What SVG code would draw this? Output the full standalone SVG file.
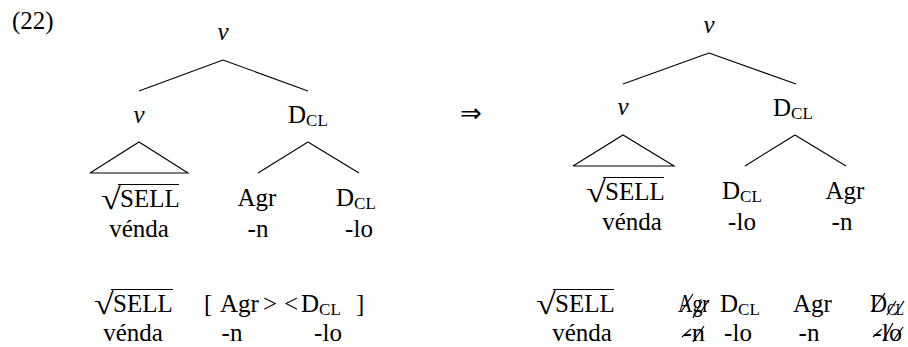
<svg xmlns="http://www.w3.org/2000/svg" width="908" height="347" viewBox="0 0 908 347">
<style>
text{font-family:"Liberation Serif","Times New Roman",serif;font-size:25px;fill:#000}
.m{text-anchor:middle}
.it{font-style:italic}
.sub{font-size:17px}
.sq{font-family:"Liberation Serif",serif;font-size:24px}
.e line,.e polyline{stroke:#000;stroke-width:1.1;fill:none}
.k{stroke:#000;stroke-width:1.2}
.rad{stroke:#000;stroke-width:1.1;fill:none}
</style>
<text x="12" y="29">(22)</text>

<g id="edges" class="e">
<line x1="223" y1="60" x2="139" y2="91"/>
<line x1="223" y1="60" x2="308" y2="91"/>
<polyline points="90,173 139,142 188,173 90,173"/>
<line x1="308" y1="142" x2="258" y2="173"/>
<line x1="308" y1="142" x2="359" y2="173"/>
<line x1="709" y1="53" x2="623" y2="84"/>
<line x1="709" y1="53" x2="796" y2="84"/>
<polyline points="573,166 623,135 674,166 573,166"/>
<line x1="795" y1="135" x2="745" y2="166"/>
<line x1="795" y1="135" x2="846" y2="166"/>
</g>

<g id="L-root"><text class="m it" x="223" y="40">v</text></g>
<g id="L-v"><text class="m it" x="139" y="123">v</text></g>
<g id="L-D"><text x="288" y="123">D<tspan class="sub" dy="3">CL</tspan></text></g>
<g id="L-sell"><text class="sq" transform="translate(101,209) scale(1.5,1.25)">√</text><line class="rad" x1="118" y1="184.5" x2="179" y2="184.5"/><text x="120" y="207">SELL</text><text class="m" x="139" y="237">vénda</text></g>
<g id="L-agr"><text class="m" x="257" y="206">Agr</text><text class="m" x="258" y="237">-n</text></g>
<g id="L-dcl"><text x="336" y="206">D<tspan class="sub" dy="3">CL</tspan></text><text class="m" x="359" y="237">-lo</text></g>

<g id="arrow"><text x="460" y="122" style="font-family:'DejaVu Sans',sans-serif;font-size:26px">⇒</text></g>

<g id="R-root"><text class="m it" x="709" y="33">v</text></g>
<g id="R-v"><text class="m it" x="623" y="115">v</text></g>
<g id="R-D"><text x="773" y="116">D<tspan class="sub" dy="3">CL</tspan></text></g>
<g id="R-sell"><text class="sq" transform="translate(586,202) scale(1.5,1.25)">√</text><line class="rad" x1="603" y1="177.5" x2="664" y2="177.5"/><text x="605" y="200">SELL</text><text class="m" x="632" y="230">vénda</text></g>
<g id="R-dcl"><text x="722" y="199">D<tspan class="sub" dy="3">CL</tspan></text><text class="m" x="742" y="230">-lo</text></g>
<g id="R-agr"><text class="m" x="845" y="199">Agr</text><text class="m" x="842" y="230">-n</text></g>

<g id="B-left">
<text class="sq" transform="translate(94,314) scale(1.5,1.25)">√</text><line class="rad" x1="111" y1="289.5" x2="173" y2="289.5"/><text x="113" y="312">SELL</text>
<text class="m" x="133" y="341">vénda</text>
<text x="204" y="312">[</text><text x="220" y="312">Agr</text><text x="263" y="312">&gt;</text><text x="284" y="312">&lt;</text>
<text x="301" y="312">D<tspan class="sub" dy="3">CL</tspan></text><text x="356" y="312">]</text>
<text class="m" x="232" y="341">-n</text><text class="m" x="328" y="341">-lo</text>
</g>

<g id="B-right">
<text class="sq" transform="translate(536,314) scale(1.5,1.25)">√</text><line class="rad" x1="553" y1="289.5" x2="614" y2="289.5"/><text x="555" y="312">SELL</text>
<text class="m" x="582" y="341">vénda</text>
<text x="678" y="312" textLength="31" lengthAdjust="spacingAndGlyphs">Agr</text>
<line class="k" x1="681" y1="312" x2="693" y2="294"/><line class="k" x1="693" y1="318" x2="702" y2="301"/><line class="k" x1="700" y1="313" x2="709" y2="300"/>
<text x="683" y="341" textLength="22" lengthAdjust="spacingAndGlyphs">-n</text>
<line class="k" x1="682" y1="337" x2="691" y2="329"/><line class="k" x1="693" y1="342" x2="704" y2="326"/>
<text x="720" y="312">D<tspan class="sub" dy="3">CL</tspan></text>
<text class="m" x="738" y="341">-lo</text>
<text x="793" y="312">Agr</text>
<text class="m" x="809" y="341">-n</text>
<text x="870" y="312" textLength="17" lengthAdjust="spacingAndGlyphs">D</text><text x="887" y="315" class="sub" textLength="17" lengthAdjust="spacingAndGlyphs">CL</text>
<line class="k" x1="872" y1="311" x2="885" y2="293"/><line class="k" x1="887" y1="315" x2="896" y2="301"/><line class="k" x1="895" y1="315" x2="904" y2="301"/>
<text x="873" y="341" textLength="29" lengthAdjust="spacingAndGlyphs">-lo</text>
<line class="k" x1="873" y1="337" x2="882" y2="329"/><line class="k" x1="883" y1="341" x2="893" y2="323"/><line class="k" x1="893" y1="341" x2="903" y2="327"/>
</g>
</svg>
